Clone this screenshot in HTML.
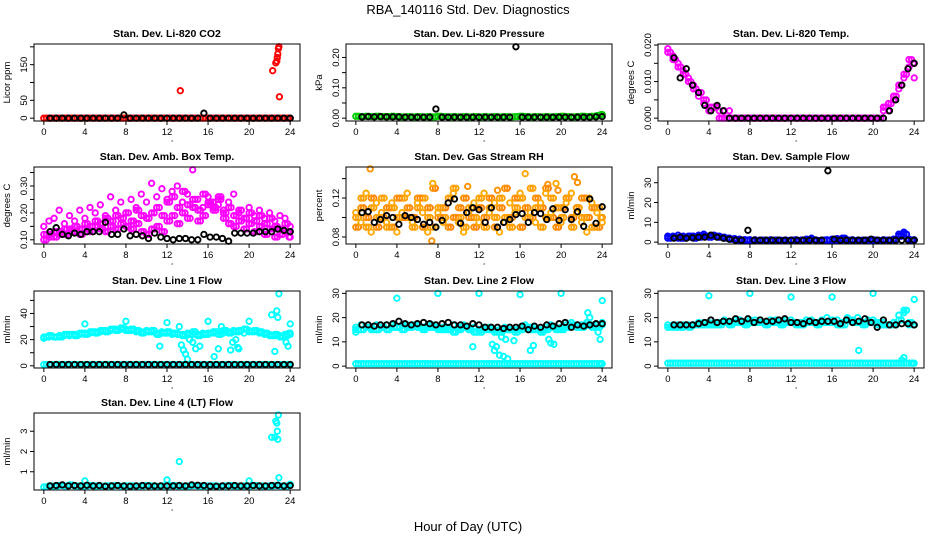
<!DOCTYPE html>
<html><head><meta charset="utf-8"><style>
html,body{margin:0;padding:0;background:#fff;}
svg{display:block;font-family:"Liberation Sans",Arial,sans-serif;}
</style></head><body>
<svg id="chart" width="936" height="540" viewBox="0 0 936 540" xmlns="http://www.w3.org/2000/svg">
<text x="468" y="14" text-anchor="middle" font-size="13">RBA_140116  Std. Dev. Diagnostics</text>
<text x="468" y="531" text-anchor="middle" font-size="13">Hour of Day (UTC)</text>
</svg>
<script>
const T49=[0,0.5,1,1.5,2,2.5,3,3.5,4,4.5,5,5.5,6,6.5,7,7.5,8,8.5,9,9.5,10,10.5,11,11.5,12,12.5,13,13.5,14,14.5,15,15.5,16,16.5,17,17.5,18,18.5,19,19.5,20,20.5,21,21.5,22,22.5,23,23.5,24];
const T49b=[0.25,0.75,1.25,1.75,2.25,2.75,3.25,3.75,4.25,4.75,5.25,5.75,6.25,6.75,7.25,7.75,8.25,8.75,9.25,9.75,10.25,10.75,11.25,11.75,12.25,12.75,13.25,13.75,14.25,14.75,15.25,15.75,16.25,16.75,17.25,17.75,18.25,18.75,19.25,19.75,20.25,20.75,21.25,21.75,22.25,22.75,23.25,23.75,23.9];
const TB=[0.6,1.2,1.8,2.4,3.0,3.6,4.2,4.8,5.4,6.0,6.6,7.2,7.8,8.4,9.0,9.6,10.2,10.8,11.4,12.0,12.6,13.2,13.8,14.4,15.0,15.6,16.2,16.8,17.4,18.0,18.6,19.2,19.8,20.4,21.0,21.6,22.2,22.8,23.4,24.0];
const xTicks=[0,4,8,12,16,20,24];

const co2Red=[0,0,0,0,0,0,0,0,0,0,0,0,0,0,0,0,0,0,0,0,0,0,0,0,0,0,0,0,0,0,0,0,0,0,0,0,0,0,0,0,0,0,0,0,0,0,0,0,0];
const co2OutX=[13.3,22.3,22.6,22.7,22.75,22.8,22.85,22.9,22.95];
const co2OutY=[77,133,155,160,170,180,195,200,60];
const co2Black=[0,0,0,0,0,0,0,0,0,0,0,0,9,0,0,0,0,0,0,0,0,0,0,0,0,14,0,0,0,0,0,0,0,0,0,0,0,0,0,0];
const presGreen=[0.006,0.005,0.006,0.005,0.006,0.005,0.005,0.006,0.005,0.004,0.005,0.004,0.005,0.004,0.005,0.004,0.006,0.005,0.004,0.005,0.004,0.005,0.004,0.005,0.004,0.005,0.004,0.005,0.004,0.005,0.004,0.005,0.006,0.005,0.004,0.005,0.004,0.005,0.004,0.005,0.006,0.005,0.004,0.005,0.006,0.005,0.006,0.008,0.012];
const presBlack=[0.004,0.005,0.004,0.005,0.004,0.004,0.004,0.003,0.003,0.003,0.003,0.003,0.03,0.003,0.003,0.003,0.003,0.003,0.003,0.003,0.003,0.003,0.003,0.003,0.003,0.235,0.003,0.003,0.003,0.003,0.003,0.003,0.003,0.003,0.003,0.003,0.003,0.003,0.004,0.005];
const tempA=[0.019,0.017,0.015,0.013,0.011,0.009,0.006,0.004,0.002,0.003,0.002,0.002,0.002,0,0,0,0,0,0,0,0,0,0,0,0,0,0,0,0,0,0,0,0,0,0,0,0,0,0,0,0,0,0.002,0.002,0.005,0.008,0.011,0.014,0.011];
const tempB=[0.018,0.016,0.014,0.012,0.010,0.008,0.007,0.005,0.003,0.003,0,0,0,0,0,0,0,0,0,0,0,0,0,0,0,0,0,0,0,0,0,0,0,0,0,0,0,0,0,0,0,0,0.003,0.004,0.006,0.009,0.012,0.016,0.015];
const tempBlack=[0.0165,0.011,0.0135,0.009,0.007,0.0035,0.002,0.0035,0.002,0,0,0,0,0,0,0,0,0,0,0,0,0,0,0,0,0,0,0,0,0,0,0,0,0,0,0.002,0.005,0.009,0.0135,0.015];
const ambA=[.12,.11,.13,.12,.14,.13,.15,.14,.16,.15,.17,.16,.18,.17,.19,.18,.20,.17,.21,.19,.18,.20,.22,.19,.24,.26,.22,.28,.23,.25,.21,.27,.24,.22,.26,.20,.22,.19,.21,.18,.20,.17,.19,.16,.18,.15,.14,.16,.13];
const ambB=[.10,.12,.11,.13,.12,.14,.13,.12,.14,.13,.15,.14,.13,.15,.14,.16,.15,.14,.16,.13,.12,.14,.15,.13,.17,.19,.16,.20,.18,.22,.17,.19,.23,.21,.25,.18,.16,.15,.17,.14,.16,.13,.15,.12,.14,.11,.12,.13,.11];
const ambC=[.15,.17,.18,.21,.16,.19,.17,.21,.18,.22,.20,.23,.19,.26,.21,.24,.20,.25,.22,.27,.24,.31,.26,.29,.25,.28,.30,.24,.27,.36,.25,.22,.26,.24,.23,.21,.24,.27,.20,.18,.22,.19,.21,.18,.20,.17,.19,.18,.15];
const ambBlack=[.13,.145,.12,.115,.125,.12,.13,.13,.13,.165,.12,.12,.14,.115,.12,.115,.105,.125,.11,.105,.10,.105,.105,.10,.10,.12,.11,.11,.105,.095,.125,.125,.125,.125,.13,.13,.13,.14,.135,.13];
const rhA=[.10,.12,.09,.11,.10,.12,.09,.11,.10,.12,.10,.09,.11,.12,.10,.09,.11,.10,.12,.13,.10,.09,.11,.10,.12,.09,.11,.10,.12,.10,.09,.11,.12,.10,.13,.11,.09,.10,.12,.11,.10,.12,.09,.11,.10,.12,.09,.11,.10];
const rhB=[.09,.11,.10,.12,.09,.10,.11,.09,.12,.10,.11,.10,.12,.09,.11,.13,.10,.11,.09,.10,.11,.12,.10,.09,.11,.10,.12,.09,.11,.13,.10,.12,.09,.11,.10,.12,.11,.13,.10,.09,.11,.12,.10,.11,.12,.10,.11,.09,.10];
const rhC=[.105,.095,.125,.085,.115,.105,.095,.115,.085,.105,.125,.095,.115,.105,.085,.135,.105,.095,.115,.125,.095,.085,.105,.115,.095,.125,.105,.115,.085,.095,.115,.105,.125,.145,.105,.095,.115,.125,.105,.135,.095,.115,.125,.105,.095,.085,.115,.105,.095];
const rhOutX=[1.4,7.4,10.9,13.8,18.7,21.3,21.6,19.7];
const rhOutY=[.15,.076,.132,.128,.134,.142,.136,.128];
const rhBlack=[.105,.106,.095,.098,.102,.10,.093,.102,.10,.098,.093,.095,.09,.097,.115,.119,.094,.105,.11,.108,.095,.11,.09,.095,.098,.103,.104,.095,.105,.104,.098,.109,.097,.108,.098,.106,.091,.119,.094,.111];
const sfA=[3,3,3.5,3,2.5,3,3.5,4,3,3.5,3,2.5,2,1.8,1.5,1.3,1.2,1.2,1,1,1.2,1,1,1.1,1,1.2,1,1.5,2,1,1,1.2,1.5,1.8,1,1,1.2,1,1,1,1.2,1,1.2,1,1.5,4,5,1.5,1.2];
const sfB=[2,2.5,2,2,3,2,2.5,3,2.5,3,2.5,2,1.5,1.2,1,1,0.8,0.8,1,0.8,0.8,1,0.8,0.8,1,0.8,1,1,1.2,0.8,1,1,0.8,1,2,1,0.8,0.8,1,0.8,1,0.8,1,0.8,1,3,4,1,1];
const sfBlack=[2,2.5,2,2.2,2.5,2.5,3.5,2.5,2,1.5,1,1,6,1,1,1,1,1,1,1,1,1,1,1,1,36,1.5,1,1,1,1,1,1.5,1,1,1,1,1,1,1];
const l1A=[21,22,22,23,23,23,24,24,25,25,26,26,27,27,28,28,28,27,26,26,27,26,25,26,25,24,25,24,25,24,24,25,24,25,26,25,26,27,26,25,27,26,25,24,24,23,23,24,24];
const l1B=[22,23,22,22,24,24,23,25,24,26,25,27,26,28,27,29,27,28,27,25,26,27,24,25,26,25,24,23,24,26,23,24,25,26,24,27,25,26,27,28,26,27,26,25,23,24,22,23,25];
const l1Low=[1,1,1,1,1,1,1,1,1,1,1,1,1,1,1,1,1,1,1,1,1,1,1,1,1,1,1,1,1,1,1,1,1,1,1,1,1,1,1,1,1,1,1,1,1,1,1,1,1];
const l1OutX=[4,8,11.3,12,13.2,13.4,13.6,13.8,14,14.2,14.5,14.8,15.2,16,16.6,17,17.3,18.2,18.4,18.7,18.9,19,20,22.2,22.5,22.7,22.8,22.9,23.6,23.8,24];
const l1OutY=[32,34,15,33,30,16,12,9,5,20,18,13,15,34,7,13,30,12,18,20,14,13,34,39,11,42,37,55,18,15,32];
const l1Black=[1,1,1,1,1,1,1,1,1,1,1,1,1,1,1,1,1,1,1,1,1,1,1,1,1,1,1,1,1,1,1,1,1,1,1,1,1,1,1,1];
const l2A=[16,17,16,16,17,16,17,17,16,17,17,16,17,16,17,17,16,16,16,17,16,17,16,16,15,16,16,15,15,16,16,15,16,17,16,16,15,16,17,16,16,17,18,17,17,18,17,17,18];
const l2B=[15,15,16,15,15,16,15,16,16,15,16,17,16,15,16,16,15,15,15,14,15,16,15,14,14,15,15,14,14,15,15,14,15,16,15,15,14,15,16,15,15,16,17,16,16,17,16,16,17];
const l2Low=[1,1,1,1,1,1,1,1,1,1,1,1,1,1,1,1,1,1,1,1,1,1,1,1,1,1,1,1,1,1,1,1,1,1,1,1,1,1,1,1,1,1,1,1,1,1,1,1,1];
const l2OutX=[0,4,8,12,11.4,13.3,13.5,13.7,14,14.2,14.4,14.6,14.8,15.4,16,17,17.3,18.8,19,19.3,20,22.6,22.8,23.6,23.8,24];
const l2OutY=[14,28,30,30,8,9,6.5,8,4.5,12,4,11,3,10.5,29.5,6.5,8.5,11,9.5,9,30,22,20,14,11,27];
const l2Black=[17,17,16.5,17,17,17.5,18.5,17.5,17,17.5,18,17.5,17,17.5,18,17,17,16.5,17.5,17,16,16,16,15.5,16,16,16.5,15,16.5,16,17,16.5,17.5,18,16,17,16.5,17,17.5,17.5];
const l3A=[17,17,17,16,17,17,18,18,18,18,18,19,18,19,19,18,19,19,19,18,19,19,18,19,19,18,18,19,19,18,19,20,19,19,18,20,19,20,18,19,19,18,18,17,18,21,22,17,17];
const l3B=[16,16,16,17,16,17,17,17,17,17,17,18,17,18,18,17,18,18,18,17,18,18,17,18,18,17,17,18,18,17,18,18,18,17,17,19,18,18,17,18,18,17,17,17,17,19,23,18,17];
const l3Low=[1.2,1.2,1.2,1.2,1.2,1.2,1.2,1.2,1.2,1.2,1.2,1.2,1.2,1.2,1.2,1.2,1.2,1.2,1.2,1.2,1.2,1.2,1.2,1.2,1.2,1.2,1.2,1.2,1.2,1.2,1.2,1.2,1.2,1.2,1.2,1.2,1.2,1.2,1.2,1.2,1.2,1.2,1.2,1.2,1.2,1.2,1.2,1.2,1.2];
const l3OutX=[4,8,12,16,20,18.6,22.8,23,24];
const l3OutY=[29,30,28.5,28.5,30,6.5,2.5,3.5,27.5];
const l3Black=[17,17,17,17,17.5,18,19,18,18.5,18.5,19.5,18.5,19.5,18,19,18.5,18.5,19,19.5,18,18,17.5,18.5,18,18.5,18.5,18.5,17.5,19,18,18.5,19.5,18,16,19,17,17,17.5,17.5,17];
const l4A=[.25,.3,.28,.32,.3,.35,.3,.28,.3,.32,.3,.28,.3,.3,.32,.28,.3,.3,.28,.3,.32,.3,.28,.3,.3,.32,.3,.28,.3,.32,.3,.28,.3,.3,.28,.3,.32,.3,.28,.3,.3,.32,.3,.28,.3,.32,.3,.28,.35];
const l4OutX=[4,12,13.2,20,22.2,22.5,22.6,22.7,22.75,22.8,22.85,22.9,24];
const l4OutY=[.55,.6,1.5,.55,2.7,2.7,3.5,3.4,3.0,2.6,3.8,.7,.38];
const l4Black=[.3,.32,.35,.3,.32,.3,.33,.3,.32,.28,.3,.32,.3,.28,.3,.32,.3,.3,.3,.3,.3,.32,.3,.35,.33,.32,.28,.28,.3,.3,.32,.3,.3,.32,.3,.3,.32,.33,.3,.32];

const NS='http://www.w3.org/2000/svg';
const svg=document.getElementById('chart');
function mk(tag,attrs,parent){const e=document.createElementNS(NS,tag);for(const k in attrs)e.setAttribute(k,attrs[k]);(parent||svg).appendChild(e);return e;}

const panels=[
 {L:34,T:44,title:'Stan. Dev. Li-820 CO2',ylab:'Licor ppm',yMin:0,yMax:200,yt:[0,50,100,150,200],yl:['0','50','','150',''],
  series:[[T49,co2Red,'#ff0000'],[T49b,co2Red,'#ff0000'],[TB,co2Black,'#000'],[co2OutX,co2OutY,'#ff0000']]},
 {L:346,T:44,title:'Stan. Dev. Li-820 Pressure',ylab:'kPa',yMin:0,yMax:0.235,yt:[0,0.05,0.1,0.15,0.2],yl:['0.00','','0.10','','0.20'],
  series:[[T49,presGreen,'#00cc00'],[T49b,presGreen,'#00cc00'],[TB,presBlack,'#000']]},
 {L:658,T:44,title:'Stan. Dev. Li-820 Temp.',ylab:'degrees C',yMin:0,yMax:0.0195,yt:[0,0.005,0.01,0.015,0.02],yl:['0.000','','0.010','','0.020'],
  series:[[T49,tempA,'#ff00ff'],[T49b,tempB,'#ff00ff'],[T49,tempB,'#ff00ff'],[TB,tempBlack,'#000']]},
 {L:34,T:167,title:'Stan. Dev. Amb. Box Temp.',ylab:'degrees C',yMin:0.095,yMax:0.36,yt:[0.1,0.15,0.2,0.25,0.3,0.35],yl:['0.10','','0.20','','0.30',''],
  series:[[T49,ambA,'#ff00ff'],[T49b,ambB,'#ff00ff'],[T49,ambB,'#ff00ff'],[T49b,ambA,'#ff00ff'],[T49,ambC,'#ff00ff'],[TB,ambBlack,'#000']]},
 {L:346,T:167,title:'Stan. Dev. Gas Stream RH',ylab:'percent',yMin:0.0757,yMax:0.149,yt:[0.08,0.1,0.12,0.14],yl:['0.08','','0.12',''],
  series:[[T49,rhA,'#ffa000'],[T49b,rhB,'#ff8000'],[T49,rhB,'#ff9000'],[T49b,rhA,'#ffa000'],[T49,rhC,'#ffa800'],[rhOutX,rhOutY,'#ff9000'],[TB,rhBlack,'#000']]},
 {L:658,T:167,title:'Stan. Dev. Sample Flow',ylab:'ml/min',yMin:0.5,yMax:36.5,yt:[0,10,20,30],yl:['0','10','20','30'],
  series:[[T49,sfA,'#0000ff'],[T49b,sfB,'#0000ff'],[T49,sfB,'#0000ff'],[TB,sfBlack,'#000']]},
 {L:34,T:291,title:'Stan. Dev. Line 1 Flow',ylab:'ml/min',yMin:0.5,yMax:55,yt:[0,10,20,30,40,50],yl:['0','','20','','40',''],
  series:[[T49,l1A,'#00ffff'],[T49b,l1B,'#00ffff'],[T49,l1B,'#00ffff'],[T49,l1Low,'#00ffff'],[T49b,l1Low,'#00ffff'],[l1OutX,l1OutY,'#00ffff'],[TB,l1Black,'#000']]},
 {L:346,T:291,title:'Stan. Dev. Line 2 Flow',ylab:'ml/min',yMin:0.4,yMax:29.8,yt:[0,10,20,30],yl:['0','10','20','30'],
  series:[[T49,l2A,'#00ffff'],[T49b,l2B,'#00ffff'],[T49,l2B,'#00ffff'],[T49,l2Low,'#00ffff'],[T49b,l2Low,'#00ffff'],[l2OutX,l2OutY,'#00ffff'],[TB,l2Black,'#000']]},
 {L:658,T:291,title:'Stan. Dev. Line 3 Flow',ylab:'ml/min',yMin:0.4,yMax:29.8,yt:[0,10,20,30],yl:['0','10','20','30'],
  series:[[T49,l3A,'#00ffff'],[T49b,l3B,'#00ffff'],[T49,l3B,'#00ffff'],[T49,l3Low,'#00ffff'],[T49b,l3Low,'#00ffff'],[l3OutX,l3OutY,'#00ffff'],[TB,l3Black,'#000']]},
 {L:34,T:413,title:'Stan. Dev. Line 4 (LT) Flow',ylab:'ml/min',yMin:0.24,yMax:3.76,yt:[1,2,3],yl:['1','2','3'],
  series:[[T49,l4A,'#00ffff'],[T49b,l4A,'#00ffff'],[l4OutX,l4OutY,'#00ffff'],[TB,l4Black,'#000']]}
];

const W=266,H=77;
panels.forEach(p=>{
  const g=mk('g',{});
  
  
  const xs=v=>p.L+W*0.037+v*(W*0.926)/24;
  const span=p.yMax-p.yMin;
  const ys=v=>p.T+H-H*0.037-(v-p.yMin)/span*(H*0.926);
  const t=mk('text',{x:p.L+W/2,y:p.T-7,'text-anchor':'middle','font-size':'10.5','font-weight':'bold'},g);
  t.textContent=p.title;
  
  
  const yl=mk('text',{x:p.L-24,y:p.T+H/2,'text-anchor':'middle','font-size':'9.5',transform:`rotate(-90 ${p.L-24} ${p.T+H/2})`},g);
  yl.textContent=p.ylab;
  
  
  const plot=mk('g',{},g);
  
  
  p.series.forEach(s=>{
    const X=s[0],Y=s[1],n=Math.min(X.length,Y.length);
    for(let i=0;i<n;i++){
      const c=mk('circle',{cx:xs(X[i]).toFixed(1),cy:ys(Y[i]).toFixed(1),r:2.7,fill:'none',stroke:s[2],'stroke-width':1.9},plot);
      
      
    }
  });
  const box=mk('rect',{x:p.L,y:p.T,width:W,height:H,fill:'none',stroke:'#000','stroke-width':1},g);
  
  
  xTicks.forEach(v=>{
    const x=xs(v);
    mk('line',{x1:x,x2:x,y1:p.T+H,y2:p.T+H+4,stroke:'#000'},g);
    const tl=mk('text',{x:x,y:p.T+H+14,'text-anchor':'middle','font-size':'9.5'},g);
    tl.textContent=String(v);
    
    
  });
  mk('line',{x1:xs(0),x2:xs(24),y1:p.T+H,y2:p.T+H,stroke:'#000'},g);
  mk('circle',{cx:xs(12.5),cy:p.T+H+20,r:0.6,fill:'#000'},g);
  p.yt.forEach((v,i)=>{
    const y=ys(v);
    if(y<p.T-1||y>p.T+H+1)return;
    mk('line',{x1:p.L-4,x2:p.L,y1:y,y2:y,stroke:'#000'},g);
    if(p.yl[i]){
      const tl=mk('text',{x:p.L-7,y:y,'text-anchor':'middle','font-size':'9.5',transform:`rotate(-90 ${p.L-7} ${y})`},g);
      tl.textContent=p.yl[i];
      
      
    }
  });
});
</script>
</body></html>
